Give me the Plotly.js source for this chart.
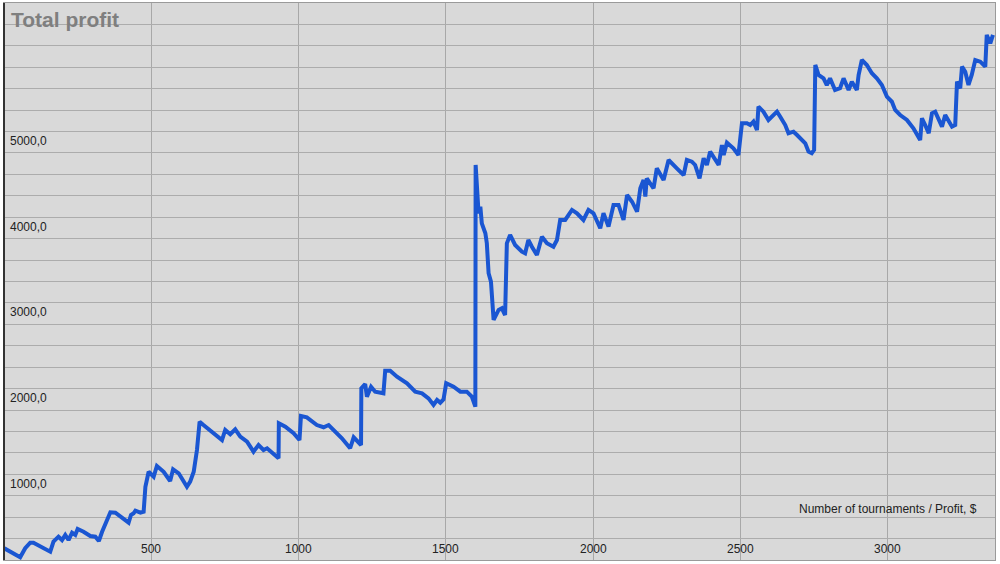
<!DOCTYPE html>
<html>
<head>
<meta charset="utf-8">
<script src="https://cdn.plot.ly/plotly-3.0.1.min.js"></script>
<style>html,body{margin:0;padding:0;background:#fff;}#chart{width:1000px;height:564px;}</style>
</head>
<body>
<div id="chart"></div>
<script>
// Number of tournaments
const tournaments = [1,21,55,72,89,100,123,157,168,185,197,208,219,231,242,250,270,293,310,322,333,350,361,378,406,423,431,440,446,463,474,480,491,508,519,542,564,574,593,621,632,644,655,664,677,711,740,751,768,785,802,825,847,864,881,893,915,932,933,955,983,1003,1008,1028,1062,1085,1102,1119,1147,1175,1187,1212,1213,1226,1232,1246,1260,1288,1294,1311,1334,1368,1396,1419,1441,1458,1470,1481,1492,1501,1526,1549,1571,1588,1600,1601,1605,1611,1617,1622,1634,1639,1645,1653,1662,1671,1679,1690,1701,1707,1718,1735,1758,1769,1780,1792,1809,1826,1843,1865,1877,1888,1905,1928,1945,1967,1984,2001,2024,2035,2052,2069,2086,2103,2115,2132,2149,2160,2171,2177,2182,2205,2216,2239,2256,2284,2307,2318,2335,2346,2361,2375,2386,2397,2426,2437,2443,2454,2476,2493,2505,2522,2533,2544,2556,2561,2578,2595,2612,2624,2635,2652,2663,2680,2692,2703,2720,2731,2742,2750,2754,2765,2782,2793,2804,2821,2838,2850,2867,2878,2895,2901,2912,2929,2946,2963,2980,2997,3014,3025,3042,3065,3087,3110,3116,3127,3139,3150,3161,3184,3195,3218,3229,3235,3246,3252,3263,3274,3285,3297,3314,3331,3336,3348,3357];
// Total profit, $
const profit = [387,347,282,387,452,452,405,347,464,522,483,542,483,569,542,612,580,530,522,472,580,717,807,802,737,685,775,795,825,802,814,1105,1280,1222,1347,1280,1172,1308,1262,1105,1164,1280,1534,1864,1825,1729,1650,1767,1717,1775,1689,1631,1514,1592,1534,1554,1495,1437,1845,1806,1729,1650,1930,1915,1825,1799,1825,1767,1670,1554,1682,1592,2254,2304,2156,2272,2214,2195,2459,2459,2389,2312,2214,2195,2137,2059,2117,2086,2125,2312,2272,2214,2214,2156,2039,4860,4606,4296,4373,4179,4063,3946,3596,3498,3051,3129,3168,3187,3109,3946,4043,3926,3848,3829,3984,3906,3809,4023,3946,3906,3984,4218,4218,4335,4296,4218,4335,4296,4121,4296,4140,4393,4393,4218,4510,4431,4315,4588,4685,4490,4704,4588,4821,4685,4918,4821,4743,4918,4898,4860,4704,4938,4860,5015,4860,5093,4976,5120,5055,4976,5346,5346,5326,5365,5268,5540,5482,5385,5443,5482,5423,5326,5230,5248,5210,5171,5113,5015,4996,5035,6027,5910,5871,5793,5871,5735,5755,5871,5735,5832,5735,5910,6085,6027,5930,5871,5793,5657,5598,5502,5443,5385,5288,5151,5405,5326,5230,5463,5482,5307,5443,5307,5326,5832,5755,6007,5948,5793,5910,6085,6065,6007,6377,6280,6377];

const xTickVals = [500,1000,1500,2000,2500,3000];
const xTickText = ['500','1000','1500','2000','2500','3000'];
const yTickVals = [1000,2000,3000,4000,5000];
const yTickText = ['1000,0','2000,0','3000,0','4000,0','5000,0'];
const titleText = 'Total profit';
const axisTitleText = 'Number of tournaments / Profit, $';

const labelFont = {family:'Liberation Sans, Arial, sans-serif', size:12, color:'#222222'};

const annotations = [];
xTickVals.forEach((v,i)=>annotations.push({
  x:v, xref:'x', y:0, yref:'paper', text:xTickText[i], showarrow:false,
  xanchor:'center', yanchor:'bottom', yshift:2, font:labelFont
}));
yTickVals.forEach((v,i)=>annotations.push({
  x:0, xref:'paper', y:v, yref:'y', text:yTickText[i], showarrow:false,
  xanchor:'left', yanchor:'bottom', xshift:4, yshift:3, font:labelFont
}));
annotations.push({
  x:0.984, xref:'paper', y:0.092, yref:'paper', text:axisTitleText, showarrow:false,
  xanchor:'right', yanchor:'middle', font:labelFont
});

const trace = {
  x: tournaments, y: profit, type:'scatter', mode:'lines',
  line:{color:'#1a56d2', width:4}, hoverinfo:'skip'
};

const layout = {
  width:1000, height:564,
  margin:{l:4, r:5, t:3, b:4, pad:0},
  paper_bgcolor:'#ffffff', plot_bgcolor:'#d9d9d9',
  showlegend:false,
  title:{text:'<b>'+titleText+'</b>', x:0.011, xanchor:'left', xref:'container',
         y:0.978, yanchor:'top', yref:'container',
         font:{family:'Liberation Sans, Arial, sans-serif', size:21, color:'#7f7f7f'}},
  xaxis:{range:[0,3364], dtick:500, tick0:0, showgrid:true, gridcolor:'#a8a8a8', gridwidth:1,
         zeroline:false, showticklabels:false, ticks:'', showline:true, mirror:true,
         linecolor:'#9a9a9a', linewidth:1, fixedrange:true},
  yaxis:{range:[250,6750], dtick:250, tick0:0, showgrid:true, gridcolor:'#acacac', gridwidth:1,
         zeroline:false, showticklabels:false, ticks:'', showline:true, mirror:true,
         linecolor:'#9a9a9a', linewidth:1, fixedrange:true},
  shapes:[{type:'line', xref:'paper', yref:'paper', x0:0, x1:0, y0:0, y1:1,
           line:{color:'#333333', width:2}}],
  annotations: annotations
};

Plotly.newPlot('chart', [trace], layout, {staticPlot:true, displayModeBar:false});
</script>
</body>
</html>
